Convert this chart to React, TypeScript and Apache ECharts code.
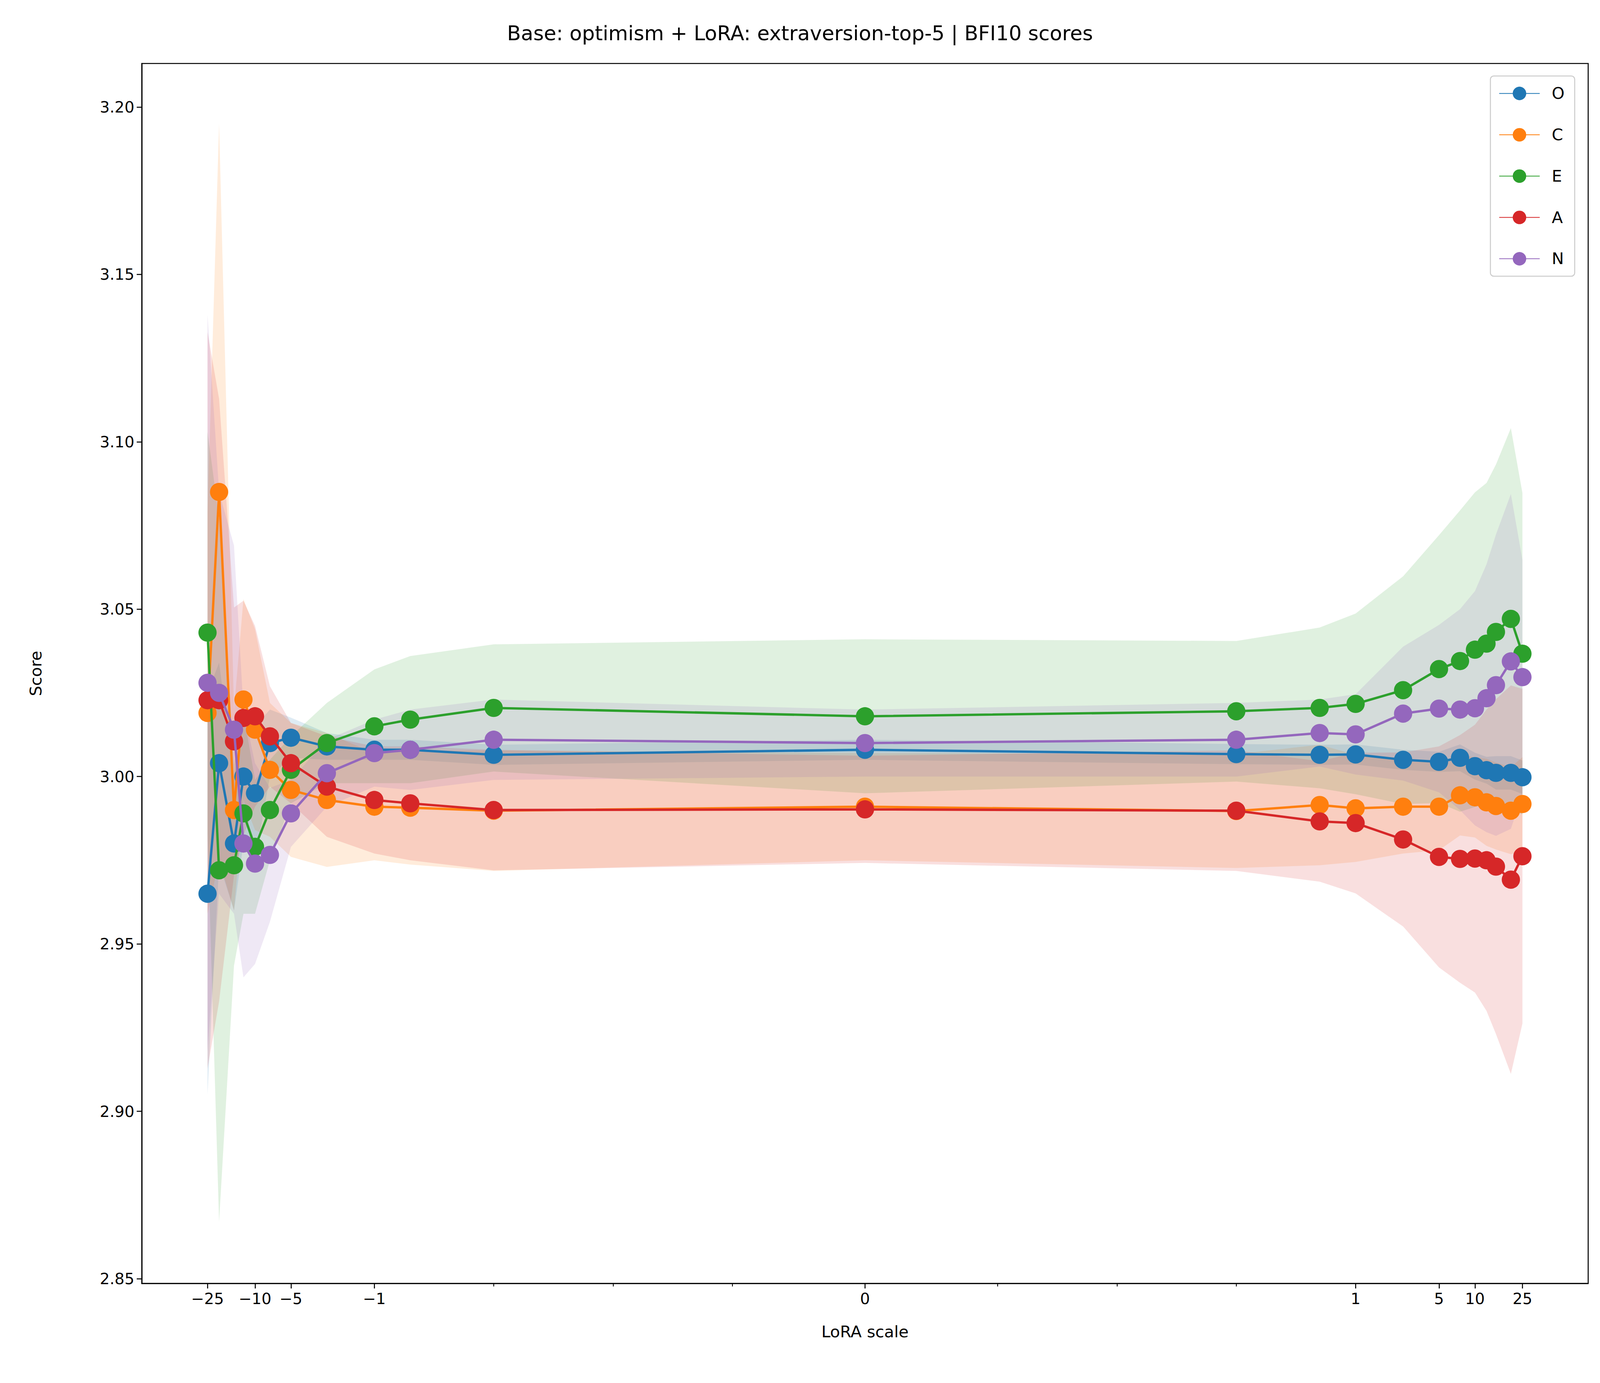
import React, { useEffect, useRef } from 'react'
import * as echarts from 'echarts'

// LoRA scales (symlog x axis, linthresh 0.001)
const SCALES = [-25, -20, -15, -12.5, -10, -7.5, -5, -2.5, -1, -0.5, -0.1, 0, 0.1, 0.5, 1, 2.5, 5, 7.5, 10, 12.5, 15, 20, 25]

const O_MEAN = [2.965, 3.004, 2.98, 3.0, 2.995, 3.01, 3.0116, 3.009, 3.008, 3.008, 3.0065, 3.008, 3.0067, 3.0065, 3.0066, 3.005, 3.0044, 3.0056, 3.0031, 3.0019, 3.0011, 3.0011, 2.9998]
const C_MEAN = [3.019, 3.085, 2.99, 3.023, 3.014, 3.002, 2.996, 2.993, 2.991, 2.9907, 2.9898, 2.991, 2.9897, 2.9915, 2.9905, 2.991, 2.991, 2.9944, 2.9938, 2.9923, 2.9912, 2.9898, 2.9918]
const E_MEAN = [3.043, 2.972, 2.9735, 2.989, 2.979, 2.99, 3.002, 3.01, 3.015, 3.017, 3.0205, 3.018, 3.0195, 3.0205, 3.0217, 3.0258, 3.0321, 3.0345, 3.0379, 3.0397, 3.0432, 3.0471, 3.0367]
const A_MEAN = [3.0228, 3.0228, 3.0105, 3.0175, 3.018, 3.012, 3.004, 2.997, 2.993, 2.992, 2.99, 2.9902, 2.9898, 2.9866, 2.9861, 2.9812, 2.976, 2.9754, 2.9755, 2.975, 2.9731, 2.9692, 2.9762]
const N_MEAN = [3.028, 3.025, 3.014, 2.98, 2.974, 2.9766, 2.989, 3.001, 3.007, 3.008, 3.011, 3.01, 3.011, 3.013, 3.0126, 3.0188, 3.0203, 3.02, 3.0204, 3.0234, 3.0273, 3.0344, 3.0297]

// half-widths of the shaded bands
const O_SPREAD = [0.06, 0.03, 0.02, 0.02, 0.02, 0.01, 0.006, 0.004, 0.003, 0.003, 0.003, 0.003, 0.003, 0.003, 0.003, 0.003, 0.003, 0.004, 0.004, 0.004, 0.005, 0.005, 0.005]
const C_SPREAD = [0.06, 0.11, 0.03, 0.03, 0.03, 0.02, 0.02, 0.02, 0.016, 0.017, 0.018, 0.016, 0.017, 0.018, 0.016, 0.014, 0.013, 0.012, 0.012, 0.013, 0.013, 0.013, 0.014]
const E_SPREAD = [0.06, 0.105, 0.03, 0.03, 0.02, 0.015, 0.01, 0.012, 0.017, 0.019, 0.019, 0.023, 0.021, 0.024, 0.027, 0.034, 0.04, 0.045, 0.047, 0.048, 0.05, 0.057, 0.048]
const A_SPREAD = [0.11, 0.09, 0.04, 0.035, 0.027, 0.015, 0.012, 0.015, 0.016, 0.017, 0.018, 0.016, 0.018, 0.018, 0.021, 0.026, 0.033, 0.037, 0.04, 0.045, 0.05, 0.058, 0.05]
const N_SPREAD = [0.11, 0.06, 0.055, 0.04, 0.03, 0.02, 0.01, 0.01, 0.01, 0.012, 0.012, 0.01, 0.011, 0.01, 0.012, 0.02, 0.025, 0.03, 0.035, 0.04, 0.045, 0.05, 0.035]

const TRAITS = ['O', 'C', 'E', 'A', 'N']
const MEANS = [O_MEAN, C_MEAN, E_MEAN, A_MEAN, N_MEAN]
const SPREADS = [O_SPREAD, C_SPREAD, E_SPREAD, A_SPREAD, N_SPREAD]
const COLORS = ['#1f77b4', '#ff7f0e', '#2ca02c', '#d62728', '#9467bd']

const X_MAJOR = [-25, -10, -5, -1, 0, 1, 5, 10, 25]
const X_MINOR = [-0.1, -0.01, -0.001, 0.001, 0.01, 0.1]
const Y_TICKS = [2.85, 2.9, 2.95, 3.0, 3.05, 3.1, 3.15, 3.2]

const LINTHRESH = 0.001
const LINSCALE = 1 / (1 - 1 / 10)

// matplotlib-style symlog transform
const symlog = (x: number) => {
  const a = Math.abs(x)
  if (a <= LINTHRESH) return (x / LINTHRESH) * LINSCALE
  return Math.sign(x) * (LINSCALE + Math.log10(a / LINTHRESH))
}

const FONT = 'DejaVu Sans'

const hexA = (hex: string, a: number) => {
  const n = parseInt(hex.slice(1), 16)
  return `rgba(${(n >> 16) & 255},${(n >> 8) & 255},${n & 255},${a})`
}

const App = () => {
  const chartRef = useRef<HTMLDivElement>(null)

  useEffect(() => {
    if (!chartRef.current) return
    const chart = echarts.init(chartRef.current, null, { renderer: 'svg' })
    // everything below is laid out for a 4740px-wide canvas
    const k = chartRef.current.clientWidth / 4740
    const s = (v: number) => v * k

    const bands = TRAITS.map((name, i) => {
      const pts = SCALES.map((x, j) => [symlog(x), MEANS[i][j] - SPREADS[i][j], MEANS[i][j] + SPREADS[i][j]])
      return {
        name: name + '-band',
        type: 'custom',
        silent: true,
        z: 1,
        data: pts,
        encode: { x: 0, y: [1, 2] },
        renderItem: (params: any, api: any) => {
          if (params.dataIndex !== 0) return null
          const upper = pts.map((p) => api.coord([p[0], p[2]]))
          const lower = pts.map((p) => api.coord([p[0], p[1]])).reverse()
          return {
            type: 'polygon',
            shape: { points: upper.concat(lower) },
            style: { fill: hexA(COLORS[i], 0.15) },
          }
        },
      }
    })

    const lines = TRAITS.map((name, i) => ({
      name,
      type: 'line',
      z: 3 + i,
      symbol: 'circle',
      symbolSize: s(54),
      color: COLORS[i],
      lineStyle: { width: s(7), color: COLORS[i] },
      itemStyle: { color: COLORS[i] },
      data: SCALES.map((x, j) => [symlog(x), MEANS[i][j]]),
    }))

    const xMin = -6.06
    const xMax = 6.06

    const option = {
      animation: false,
      textStyle: { fontFamily: FONT },
      title: {
        text: 'Base: optimism + LoRA: extraversion-top-5 | BFI10 scores',
        left: 'center',
        top: s(62),
        textStyle: { fontFamily: FONT, fontSize: s(60), fontWeight: 'normal', color: '#000' },
      },
      legend: {
        data: TRAITS,
        orient: 'vertical',
        right: s(75),
        top: s(225),
        itemWidth: s(120),
        itemHeight: s(50),
        itemGap: s(75),
        padding: [s(28), s(30), s(28), s(25)],
        borderColor: '#cccccc',
        borderWidth: s(3),
        borderRadius: s(10),
        backgroundColor: 'rgba(255,255,255,0.8)',
        textStyle: { fontFamily: FONT, fontSize: s(48), color: '#000', padding: [0, 0, 0, s(30)] },
      },
      grid: {
        left: s(420),
        right: s(35),
        top: s(188),
        bottom: s(295),
        show: true,
        borderColor: '#000',
        borderWidth: s(3),
        backgroundColor: 'transparent',
      },
      xAxis: [
        {
          type: 'value',
          min: xMin,
          max: xMax,
          name: 'LoRA scale',
          nameLocation: 'middle',
          nameGap: s(120),
          nameTextStyle: { fontFamily: FONT, fontSize: s(48), color: '#000' },
          splitLine: { show: false },
          axisLine: { show: true, onZero: false, lineStyle: { color: '#000', width: s(3) } },
          axisTick: { show: true, customValues: X_MAJOR.map(symlog), length: s(15), lineStyle: { color: '#000', width: s(3) } },
          axisLabel: {
            customValues: X_MAJOR.map(symlog),
            fontFamily: FONT,
            fontSize: s(46),
            color: '#000',
            margin: s(22),
            formatter: (v: number) => {
              let best = X_MAJOR[0]
              X_MAJOR.forEach((t) => {
                if (Math.abs(symlog(t) - v) < Math.abs(symlog(best) - v)) best = t
              })
              return best < 0 ? '\u2212' + Math.abs(best) : String(best)
            },
          },
        },
        {
          type: 'value',
          min: xMin,
          max: xMax,
          position: 'bottom',
          splitLine: { show: false },
          axisLine: { show: false, onZero: false },
          axisTick: { show: true, customValues: X_MINOR.map(symlog), length: s(9), lineStyle: { color: '#000', width: s(2.5) } },
          axisLabel: { show: false },
        },
      ],
      yAxis: {
        type: 'value',
        min: 2.8486,
        max: 3.213,
        name: 'Score',
        nameLocation: 'middle',
        nameGap: s(290),
        nameTextStyle: { fontFamily: FONT, fontSize: s(48), color: '#000' },
        splitLine: { show: false },
        axisLine: { show: true, onZero: false, lineStyle: { color: '#000', width: s(3) } },
        axisTick: { show: true, customValues: Y_TICKS, length: s(15), lineStyle: { color: '#000', width: s(3) } },
        axisLabel: {
          customValues: Y_TICKS,
          fontFamily: FONT,
          fontSize: s(46),
          color: '#000',
          margin: s(22),
          formatter: (v: number) => v.toFixed(2),
        },
      },
      series: [...bands, ...lines],
    }

    chart.setOption(option as any)
    return () => chart.dispose()
  }, [])

  return (
    <div
      ref={chartRef}
      style={{ position: 'fixed', left: 0, top: 0, width: '100vw', height: '100vh', background: '#fff' }}
    />
  )
}

export default App
